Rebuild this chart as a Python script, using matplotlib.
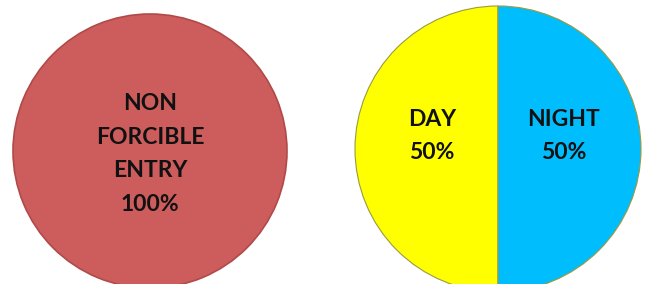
import matplotlib
matplotlib.use("Agg")
import matplotlib.pyplot as plt

# data
entry_labels = ["NON\nFORCIBLE\nENTRY"]
entry_values = [100]
entry_colors = ["#CD5C5C"]

time_labels = ["DAY", "NIGHT"]
time_values = [50, 50]
time_colors = ["#FFFF00", "#00BDFD"]

plt.rcParams["font.family"] = ["Lato", "DejaVu Sans"]

W, H = 650, 284
fig = plt.figure(figsize=(W / 100, H / 100), dpi=100)
ax = fig.add_axes([0, 0, 1, 1])


def make_fmt(labels):
    it = iter(labels)

    def fmt(pct):
        return "{}\n{:.0f}%".format(next(it), pct)
    return fmt


text_style = dict(fontsize=16.5, fontweight="bold", color="#111111", linespacing=1.76)

# left pie
_, _, texts_l = ax.pie(entry_values, colors=entry_colors, center=(150, H - 151),
                       radius=137, startangle=90,
                       autopct=make_fmt(entry_labels), pctdistance=0,
                       wedgeprops=dict(edgecolor="#B04A48", linewidth=1.2),
                       textprops=text_style)
for t in texts_l:
    x, y = t.get_position()
    t.set_position((x, y - 3))

# right pie
_, _, texts_r = ax.pie(time_values, colors=time_colors, center=(498, H - 149),
                       radius=143, startangle=90,
                       autopct=make_fmt(time_labels), pctdistance=0.46,
                       wedgeprops=dict(edgecolor="#9a9a40", linewidth=0.8),
                       textprops=text_style)
for t in texts_r:
    x, y = t.get_position()
    t.set_position((x, y + 13))

ax.set_xlim(0, W)
ax.set_ylim(0, H)
ax.set_aspect("equal")
ax.axis("off")

fig.savefig("out.png", dpi=100, facecolor="white")
